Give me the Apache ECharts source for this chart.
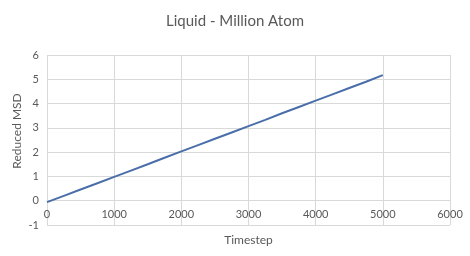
<!DOCTYPE html>
<html><head><meta charset="utf-8">
<script src="https://cdn.jsdelivr.net/npm/echarts@6/dist/echarts.min.js"></script>
<style>html,body{margin:0;padding:0;background:#fff}#c{width:470px;height:256px}</style>
</head><body><div id="c"></div>
<script>
const title = 'Liquid - Million Atom';
const xName = 'Timestep';
const yName = 'Reduced MSD';
const timesteps = [0,250,500,750,1000,1250,1500,1750,2000,2250,2500,2750,3000,3250,3500,3750,4000,4250,4500,4750,5000];
const msd = [-0.06,0.2,0.46,0.72,0.98,1.24,1.5,1.77,2.03,2.29,2.55,2.81,3.07,3.33,3.6,3.86,4.12,4.38,4.64,4.9,5.17];
const font = 'Lato';
const chart = echarts.init(document.getElementById('c'), null, {renderer:'canvas'});
chart.setOption({
  animation:false,
  backgroundColor:'#fff',
  title:{text:title,left:'center',top:9,textStyle:{fontFamily:font,fontSize:15,fontWeight:'normal',color:'#595959'}},
  grid:{left:47,right:20,top:55,bottom:31,containLabel:false,outerBoundsMode:'none'},
  xAxis:{type:'value',min:0,max:6000,interval:1000,name:xName,nameLocation:'middle',nameGap:33,
    offset:-24.3,nameMoveOverlap:false,
    nameTextStyle:{fontFamily:font,fontSize:12,color:'#595959'},
    axisLine:{show:true,onZero:false,lineStyle:{color:'#d9d9d9'}},axisTick:{show:false},
    axisLabel:{fontFamily:font,fontSize:11,color:'#595959',margin:8,formatter:v=>String(v)},
    splitLine:{show:true,lineStyle:{color:'#d9d9d9'}}},
  yAxis:{type:'value',min:-1,max:6,interval:1,name:yName,nameLocation:'middle',nameGap:24,
    nameMoveOverlap:false,
    nameTextStyle:{fontFamily:font,fontSize:12,color:'#595959',padding:[0,0,0,18]},
    axisLine:{show:false},axisTick:{show:false},
    axisLabel:{fontFamily:font,fontSize:11,color:'#595959',margin:8,formatter:v=>String(v)},
    splitLine:{show:true,lineStyle:{color:'#d9d9d9'}}},
  series:[{type:'line',data:timesteps.map((t,i)=>[t,msd[i]]),showSymbol:false,
    lineStyle:{color:'#4a6ea9',width:2}}]
});
</script></body></html>
